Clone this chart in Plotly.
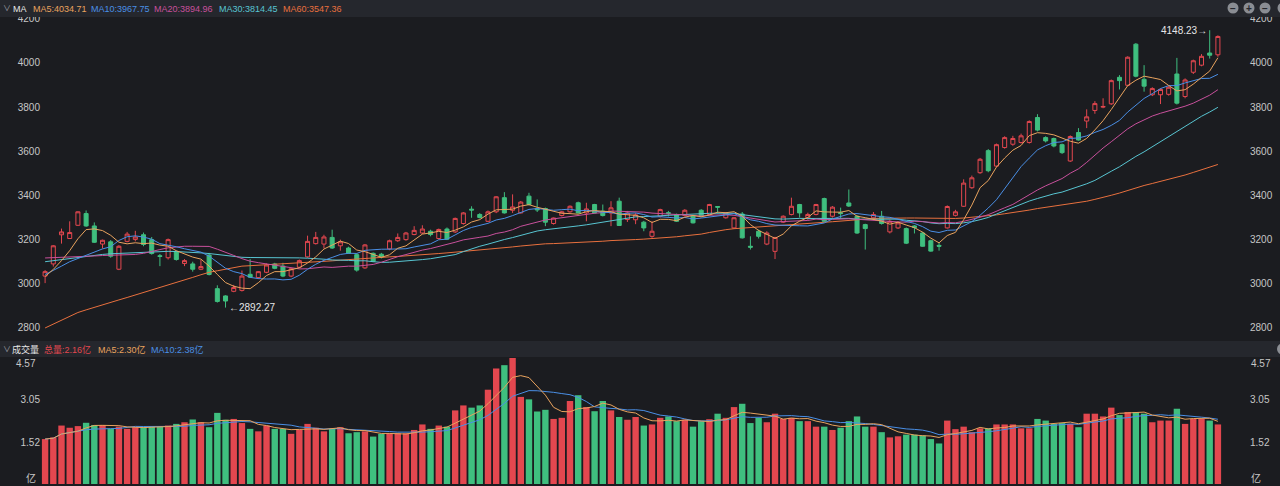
import plotly.graph_objects as go
import pandas as pd

# ---------------- data ----------------
opens = [3035,3090,3222,3205,3265,3318,3262,3180,3190,3066,
         3192,3201,3222,3200,3127,3118,3145,3092,3090,3066,
         3130,2978,2945,2966,2970,3043,3028,3052,3090,3080,
         3035,3075,3122,3182,3180,3210,3172,3162,3132,3072,
         3138,3134,3158,3195,3200,3223,3230,3238,3205,3248,
         3235,3273,3338,3314,3283,3326,3390,3333,3321,3397,
         3340,3341,3273,3309,3326,3367,3321,3359,3329,3321,
         3374,3291,3290,3279,3215,3306,3322,3314,3309,3309,
         3333,3314,3350,3299,3253,3316,3170,3238,3180,3147,
         3279,3314,3359,3299,3314,3386,3306,3322,3366,3306,
         3268,3299,3306,3235,3253,3250,3262,3230,3195,3174,
         3253,3310,3351,3435,3503,3603,3533,3617,3632,3640,
         3640,3753,3662,3658,3630,3556,3685,3737,3785,3800,
         3815,3935,3899,4085,3926,3856,3856,3858,3950,3848,
         3958,3990,4045,4037]
highs = [3062,3175,3250,3283,3328,3332,3278,3200,3198,3175,
         3235,3240,3232,3212,3135,3205,3150,3112,3100,3108,
         3140,2993,2948,2995,3060,3112,3058,3092,3095,3095,
         3072,3110,3218,3235,3222,3245,3200,3168,3138,3180,
         3142,3140,3200,3228,3235,3261,3265,3245,3250,3255,
         3300,3325,3351,3320,3332,3397,3415,3405,3375,3412,
         3382,3345,3300,3330,3355,3372,3367,3362,3359,3374,
         3390,3330,3320,3285,3283,3340,3330,3318,3338,3312,
         3338,3362,3352,3325,3302,3325,3215,3245,3238,3212,
         3310,3390,3362,3322,3362,3390,3352,3345,3427,3310,
         3272,3325,3330,3290,3282,3255,3266,3235,3200,3185,
         3355,3335,3473,3490,3570,3610,3635,3668,3670,3680,
         3740,3768,3668,3662,3635,3672,3705,3790,3827,3840,
         3925,3945,4030,4090,3990,3890,3885,3895,4023,3930,
         4015,4040,4148.23,4125]
lows = [3003,3078,3182,3203,3262,3258,3185,3160,3118,3062,
        3188,3192,3170,3132,3080,3110,3105,3080,3055,3062,
        3038,2915,2892.27,2962,2965,3027,3022,3048,3066,3030,
        3030,3070,3118,3178,3160,3158,3150,3135,3055,3068,
        3098,3115,3152,3190,3195,3220,3225,3215,3200,3198,
        3230,3268,3299,3296,3280,3320,3318,3321,3318,3355,
        3325,3261,3268,3305,3322,3318,3283,3318,3305,3261,
        3262,3280,3270,3238,3208,3300,3305,3280,3305,3273,
        3302,3310,3318,3295,3250,3205,3155,3205,3175,3112,
        3275,3310,3300,3290,3310,3280,3300,3298,3348,3226,
        3155,3288,3268,3228,3248,3180,3228,3168,3145,3150,
        3250,3305,3348,3430,3498,3505,3528,3612,3625,3635,
        3635,3690,3640,3618,3588,3552,3648,3705,3770,3795,
        3810,3880,3895,3935,3870,3850,3814,3852,3812,3840,
        3950,3985,4020,4028]
closes = [3055,3172,3235,3232,3326,3262,3188,3197,3125,3170,
          3225,3212,3178,3137,3124,3200,3110,3105,3066,3078,
          3042,2920,2922,2983,3035,3030,3055,3085,3070,3035,
          3068,3105,3192,3210,3212,3162,3190,3138,3062,3176,
          3102,3122,3195,3210,3230,3242,3248,3223,3246,3202,
          3296,3321,3334,3300,3326,3394,3321,3348,3370,3359,
          3335,3279,3298,3326,3351,3321,3339,3321,3309,3344,
          3264,3321,3312,3253,3238,3336,3319,3283,3333,3276,
          3306,3359,3347,3321,3299,3208,3166,3215,3230,3210,
          3306,3351,3321,3314,3359,3283,3347,3318,3352,3230,
          3250,3314,3273,3283,3276,3184,3255,3170,3148,3170,
          3350,3326,3456,3480,3564,3512,3630,3662,3658,3670,
          3735,3696,3647,3624,3594,3667,3651,3756,3816,3803,
          3920,3920,4026,3940,3895,3884,3880,3890,3818,3923,
          4010,4030,4035,4120]
volumes = [1.63,1.69,2.12,2.04,2.10,2.22,2.14,2.14,2.00,2.08,
           2.00,2.06,2.08,2.08,2.08,2.12,2.18,2.24,2.34,2.24,
           2.06,2.58,2.33,2.36,2.21,2.00,1.91,2.12,2.00,2.00,
           1.82,1.96,2.18,2.04,1.91,2.00,2.06,1.84,1.88,1.91,
           1.72,1.82,1.84,1.84,1.84,1.96,2.16,2.00,2.12,2.08,
           2.67,2.85,2.77,2.85,3.42,4.19,4.31,4.57,3.16,3.07,
           2.63,2.69,2.36,2.40,3.01,3.22,2.79,2.64,3.01,2.67,
           2.43,2.33,2.43,2.12,2.16,2.40,2.45,2.28,2.33,2.08,
           2.28,2.35,2.55,2.40,2.79,2.91,2.21,2.40,2.24,2.55,
           2.36,2.40,2.28,2.28,2.08,2.08,1.96,2.04,2.28,2.45,
           2.08,2.08,1.88,1.69,1.73,1.79,1.79,1.76,1.63,1.47,
           2.30,1.99,2.08,1.88,2.02,2.02,2.16,2.16,2.16,2.02,
           2.02,2.36,2.30,2.18,2.21,2.18,2.06,2.55,2.55,2.45,
           2.77,2.50,2.61,2.61,2.55,2.24,2.30,2.30,2.73,2.18,
           2.36,2.36,2.30,2.16]

# moving-average values for the first days,
# where the averaging window reaches back before the visible data
ma5_head = [3033, 3065, 3105, 3150]
ma10_head = [3042, 3060, 3080, 3100, 3115, 3130, 3145, 3158, 3168]
ma20_head = [3117, 3118, 3119, 3120, 3122, 3124, 3126, 3128, 3129, 3130,
             3131, 3133, 3138, 3145, 3155, 3163, 3168, 3170, 3170]
ma30_head = [3100, 3105, 3110, 3115, 3120, 3125, 3130, 3133, 3136, 3138,
             3140, 3142, 3144, 3146, 3147, 3147, 3146, 3145, 3143, 3140,
             3137, 3132, 3127, 3122, 3120, 3119, 3119, 3119, 3119]
ma60_head = [2800, 2818, 2836, 2853, 2870, 2882, 2894, 2905, 2916, 2927,
             2938, 2949, 2960, 2972, 2983, 2995, 3006, 3018, 3029, 3041,
             3052, 3059, 3066, 3073, 3080, 3082, 3084, 3086, 3088, 3090,
             3092, 3094, 3095, 3098, 3101, 3104, 3107, 3110, 3113, 3116,
             3118, 3120, 3122, 3124, 3126, 3128, 3131, 3134, 3137, 3140,
             3143, 3147, 3150, 3153, 3157, 3160, 3164, 3167, 3171]

price_ticks = [2800, 3000, 3200, 3400, 3600, 3800, 4000, 4200]
vol_ticks = [1.52, 3.05]
vol_top_label = "4.57"
vol_unit = "亿"

header_items = [("MA5:4034.71", "#e9a35e"), ("MA10:3967.75", "#4a8fe6"),
                ("MA20:3894.96", "#c8509c"), ("MA30:3814.45", "#58c5d2"),
                ("MA60:3547.36", "#e8703e")]
vol_header_items = [("总量:2.16亿", "#e3474f"), ("MA5:2.30亿", "#e9a35e"),
                    ("MA10:2.38亿", "#4a8fe6")]

# ---------------- derived series ----------------
def moving_average(values, window, head):
    s = pd.Series(values, dtype=float).rolling(window).mean()
    s.iloc[:len(head)] = head
    return s.round(2).tolist()

ma5 = moving_average(closes, 5, ma5_head)
ma10 = moving_average(closes, 10, ma10_head)
ma20 = moving_average(closes, 20, ma20_head)
ma30 = moving_average(closes, 30, ma30_head)
ma60 = moving_average(closes, 60, ma60_head)
vma5 = pd.Series(volumes).rolling(5, min_periods=1).mean().tolist()
vma10 = pd.Series(volumes).rolling(10, min_periods=1).mean().tolist()

idx = list(range(len(closes)))

# ---------------- style ----------------
W, H = 1280, 486
PL, PR = 41, 1222
BG = "#1b1c20"
HEAD_BG = "#25272d"
RED = "#e3474f"
GREEN = "#3fbf7f"
AXIS_TXT = "#c6c6c6"
FONT = "Liberation Sans, Noto Sans CJK SC, sans-serif"
C_MA5, C_MA10, C_MA20, C_MA30, C_MA60 = "#e9a35e", "#4a8fe6", "#c8509c", "#58c5d2", "#e8703e"


def fx(px):
    return (px - PL) / (PR - PL)


def fy(py):
    return 1 - py / H


bar_colors = [RED if c >= o else GREEN for o, c in zip(opens, closes)]

fig = go.Figure()
fig.add_trace(go.Candlestick(
    x=idx, open=opens, high=highs, low=lows, close=closes,
    increasing=dict(line=dict(color=RED, width=1), fillcolor="rgba(0,0,0,0)"),
    decreasing=dict(line=dict(color=GREEN, width=1), fillcolor=GREEN),
    whiskerwidth=0, hoverinfo="skip", xaxis="x", yaxis="y", showlegend=False))
for ys, col in [(ma60, C_MA60), (ma30, C_MA30), (ma20, C_MA20), (ma10, C_MA10), (ma5, C_MA5)]:
    fig.add_trace(go.Scatter(x=idx, y=ys, mode="lines", line=dict(color=col, width=1),
                             hoverinfo="skip", xaxis="x", yaxis="y3", showlegend=False))

fig.add_trace(go.Bar(x=idx, y=volumes, marker=dict(color=bar_colors, line=dict(width=0)),
                     hoverinfo="skip", xaxis="x2", yaxis="y2", showlegend=False))
for ys, col in [(vma10, C_MA10), (vma5, C_MA5)]:
    fig.add_trace(go.Scatter(x=idx, y=ys, mode="lines", line=dict(color=col, width=1),
                             hoverinfo="skip", xaxis="x2", yaxis="y4", showlegend=False))

price_range = [2745.5, 4203.6]
vol_range = [0, 4.57]
common_y = dict(showgrid=False, zeroline=False, showline=False, ticks="", automargin=False,
                tickfont=dict(size=10, color=AXIS_TXT, family=FONT))

fig.update_layout(
    width=W, height=H, autosize=False,
    margin=dict(l=PL, r=W - PR, t=0, b=0, pad=0, autoexpand=False),
    paper_bgcolor=BG, plot_bgcolor=BG,
    bargap=0.22, showlegend=False, hovermode=False,
    font=dict(family=FONT, color=AXIS_TXT, size=10),
    xaxis=dict(domain=[0, 1], range=[-0.5, len(idx) - 0.5], visible=False, automargin=False,
               anchor="y", rangeslider=dict(visible=False), fixedrange=True),
    xaxis2=dict(domain=[0, 1], range=[-0.5, len(idx) - 0.5], visible=False, automargin=False,
                anchor="y2", fixedrange=True),
    yaxis=dict(domain=[fy(340), fy(18)], range=price_range, tickvals=price_ticks,
               side="left", anchor="x", **common_y),
    yaxis3=dict(range=price_range, tickvals=price_ticks, side="right",
                overlaying="y", anchor="x", ticklabelstandoff=27, **common_y),
    yaxis2=dict(domain=[fy(484), fy(358)], range=vol_range, tickvals=vol_ticks,
                side="left", anchor="x2", **common_y),
    yaxis4=dict(range=vol_range, tickvals=vol_ticks, side="right", overlaying="y2",
                anchor="x2", ticklabelstandoff=27, **common_y),
)

shapes = [
    dict(type="rect", xref="paper", yref="paper", x0=fx(0), x1=fx(W), y0=fy(17), y1=fy(0),
         fillcolor=HEAD_BG, line=dict(width=0), layer="above"),
    dict(type="rect", xref="paper", yref="paper", x0=fx(0), x1=fx(W), y0=fy(357), y1=fy(341),
         fillcolor=HEAD_BG, line=dict(width=0), layer="above"),
]
for cx in [1233, 1249, 1265, 1283]:
    shapes.append(dict(type="circle", xref="paper", yref="paper",
                       x0=fx(cx - 5.5), x1=fx(cx + 5.5), y0=fy(13.5), y1=fy(2.5),
                       fillcolor="#8a8d93", line=dict(width=0), layer="above"))
shapes.append(dict(type="circle", xref="paper", yref="paper",
                   x0=fx(1277), x1=fx(1288), y0=fy(354.5), y1=fy(343.5),
                   fillcolor="#8a8d93", line=dict(width=0), layer="above"))
fig.update_layout(shapes=shapes)

ann = []


def label(px, py, text, color, size=9, anchor="left"):
    ann.append(dict(xref="paper", yref="paper", x=fx(px), y=fy(py), text=text,
                    showarrow=False, xanchor=anchor, yanchor="middle",
                    font=dict(size=size, color=color, family=FONT)))


label(1, 8.5, "∨", "#9a9ca2", 8)
label(11, 8.5, "MA", "#e6e6e6", 9)
for (t, c), x in zip(header_items, [31, 89, 152, 217, 281]):
    label(x, 8.5, t, c, 9)
label(1, 349, "∨", "#9a9ca2", 8)
label(10, 349, "成交量", "#e6e6e6", 9)
for (t, c), x in zip(vol_header_items, [42, 96, 149]):
    label(x, 349, t, c, 9)
for cx, sym in [(1233, "−"), (1249, "+"), (1265, "−")]:
    ann.append(dict(xref="paper", yref="paper", x=fx(cx), y=fy(8), text="<b>%s</b>" % sym,
                    showarrow=False, xanchor="center", yanchor="middle",
                    font=dict(size=10, color="#25272d", family=FONT)))
# top value and unit label of the volume axis, both sides
label(38, 363, vol_top_label, AXIS_TXT, 10, "right")
label(1249, 363, vol_top_label, AXIS_TXT, 10, "left")
label(38, 478, vol_unit, AXIS_TXT, 10, "right")
label(1249, 478, vol_unit, AXIS_TXT, 10, "left")

low_i = lows.index(min(lows))
high_i = highs.index(max(highs))
ann.append(dict(xref="x", yref="y", x=low_i, y=lows[low_i], text="←%.2f" % lows[low_i],
                showarrow=False, xanchor="left", yanchor="middle", xshift=1,
                font=dict(size=10, color="#e6e6e6", family=FONT)))
ann.append(dict(xref="x", yref="y", x=high_i, y=highs[high_i], text="%.2f→" % highs[high_i],
                showarrow=False, xanchor="right", yanchor="middle", xshift=-1,
                font=dict(size=10, color="#e6e6e6", family=FONT)))
fig.update_layout(annotations=ann)

fig.write_html("out.html", config={"displayModeBar": False, "staticPlot": True},
               post_script="document.documentElement.style.margin='0';"
                           "document.body.style.margin='0';document.body.style.padding='0';"
                           "document.body.style.overflow='hidden';window.scrollTo(0,0);")
